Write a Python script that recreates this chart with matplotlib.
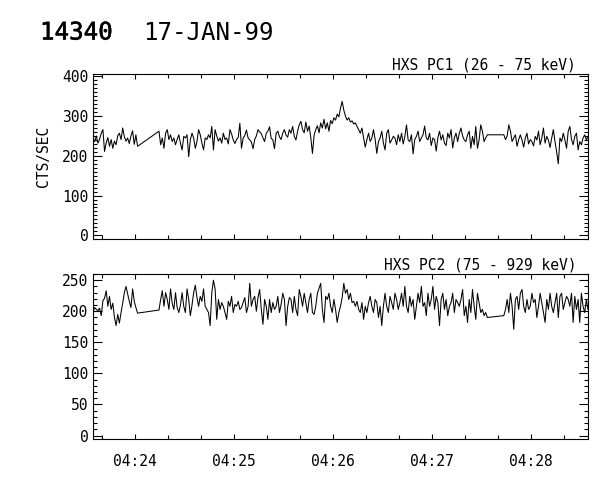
import numpy as np
import matplotlib
matplotlib.use("Agg")
import matplotlib.pyplot as plt
import matplotlib.dates as mdates
from matplotlib import patheffects
from datetime import datetime, timedelta

# ---------------- data ----------------
start_time = datetime(1999, 1, 17, 4, 23, 34, 500000)
window_s = 300
# sample segments (seconds from start, inclusive), 1 s cadence, data gaps between
segments = [(0, 27), (40, 239), (249, 300)]

pc1_seg1 = [244, 236, 250, 232, 242, 257, 266, 211, 233, 246, 224, 241, 219, 237,
            228, 251, 257, 241, 270, 248, 237, 245, 231, 250, 263, 229, 253, 224]
pc1_seg2 = [
    # t 40-74
    262, 228, 245, 219, 257, 266, 241, 253, 236, 245, 228, 241, 253, 232, 215, 249, 245,
    253, 198, 241, 257, 245, 219, 236, 266, 253, 232, 215, 245, 241, 253, 245, 274, 215, 266,
    # t 75-150
    250, 237, 245, 232, 257, 241, 245, 230, 266, 255, 240, 231, 241, 246, 282, 219, 245,
    251, 265, 245, 240, 235, 218, 241, 250, 266, 260, 256, 245, 236, 257, 262, 273, 244,
    240, 218, 257, 262, 248, 241, 257, 266, 252, 247, 266, 257, 274, 249, 240, 262, 278,
    287, 266, 258, 285, 262, 275, 246, 206, 252, 266, 276, 258, 283, 270, 292, 268, 283,
    262, 289, 281, 296, 290, 305, 298, 320,
    # t 151-225
    337, 315, 300, 290, 296, 285, 288, 280, 283, 274, 266, 257, 270, 245, 222, 241, 257,
    236, 245, 266, 241, 206, 236, 245, 262, 232, 215, 257, 266, 232, 240, 249, 245, 228,
    253, 236, 257, 230, 249, 278, 240, 236, 253, 205, 241, 249, 262, 236, 245, 253, 275,
    245, 240, 257, 226, 245, 241, 212, 245, 262, 240, 253, 232, 226, 257, 245, 266, 220,
    245, 257, 236, 257, 270, 250, 240,
    # t 226-239
    236, 253, 262, 219, 249, 228, 274, 219, 240, 278, 262, 236, 245, 253]
pc1_seg3 = [253, 241, 250, 278, 262, 236, 245, 253, 224, 241, 253, 240, 222, 245, 257,
            230, 241, 236, 225, 249, 240, 262, 228, 245, 270, 232, 249, 240, 221, 245,
            266, 236, 210, 180, 245, 236, 257, 240, 219, 262, 274, 241, 228, 249, 257,
            215, 236, 228, 245, 253, 240, 249]

pc2_seg1 = [199, 206, 203, 201, 205, 193, 217, 221, 233, 208, 224, 203, 213, 190,
            177, 195, 181, 198, 213, 230, 240, 228, 216, 206, 236, 216, 206, 197]
pc2_seg2 = [
    # t 40-74
    202, 219, 233, 208, 230, 219, 203, 236, 213, 203, 230, 206, 198, 210, 230, 208, 198,
    236, 219, 193, 210, 230, 242, 222, 208, 224, 216, 236, 208, 203, 198, 177, 230, 250, 236,
    # t 75-150
    187, 219, 203, 214, 208, 198, 187, 216, 208, 224, 198, 211, 208, 216, 203, 206, 214,
    222, 198, 208, 245, 208, 219, 224, 200, 222, 235, 203, 179, 219, 208, 187, 219, 198,
    214, 203, 208, 224, 198, 211, 229, 219, 177, 208, 222, 219, 198, 224, 203, 193, 235,
    224, 208, 229, 214, 198, 219, 229, 198, 195, 208, 229, 237, 245, 203, 182, 224, 219,
    229, 208, 198, 219, 203, 182, 198, 208,
    # t 151-217
    222, 245, 229, 235, 219, 229, 214, 216, 208, 216, 203, 198, 214, 187, 208, 198, 214,
    224, 208, 198, 219, 214, 190, 208, 177, 208, 229, 208, 198, 224, 214, 203, 229, 219,
    203, 214, 229, 208, 240, 208, 198, 224, 208, 219, 187, 208, 229, 214, 240, 208, 214,
    193, 229, 208, 219, 240, 203, 224, 214, 177, 219, 229, 203, 219, 193, 208, 214,
    # t 218-239
    229, 198, 219, 214, 208, 219, 235, 193, 208, 182, 219, 198, 235, 208, 187, 229, 214,
    198, 203, 193, 198, 190]
pc2_seg3 = [193, 203, 219, 198, 229, 208, 171, 219, 224, 203, 229, 235, 208, 198, 219,
            203, 208, 229, 214, 219, 190, 208, 229, 214, 198, 182, 219, 203, 229, 208,
            198, 214, 229, 190, 224, 229, 203, 214, 224, 219, 208, 229, 182, 224, 203,
            219, 182, 229, 208, 198, 219, 203]

pc1_title = "HXS PC1 (26 - 75 keV)"
pc2_title = "HXS PC2 (75 - 929 keV)"
y_label = "CTS/SEC"
title_id = "14340"
title_date = "17-JAN-99"

# ---------------- build series ----------------
secs = np.concatenate([np.arange(a, b + 1) for a, b in segments])
pc1 = np.array(pc1_seg1 + pc1_seg2 + pc1_seg3, dtype=float)
pc2 = np.array(pc2_seg1 + pc2_seg2 + pc2_seg3, dtype=float)
times = mdates.date2num([start_time + timedelta(seconds=float(s)) for s in secs])
n = min(len(times), len(pc1), len(pc2))
times, pc1, pc2 = times[:n], pc1[:n], pc2[:n]

plt.rcParams["font.family"] = ["DejaVu Sans Mono", "DejaVu Sans"]
fig = plt.figure(figsize=(6, 4.8), dpi=100)
ax1 = fig.add_axes([0.155, 0.5015, 0.825, 0.3435])
ax2 = fig.add_axes([0.155, 0.0848, 0.825, 0.3444])

x0 = mdates.date2num(start_time)
x1 = mdates.date2num(start_time + timedelta(seconds=window_s))

for ax, y, ttl in ((ax1, pc1, pc1_title), (ax2, pc2, pc2_title)):
    ax.plot(times, y, color="black", lw=0.75)
    ax.set_xlim(x0, x1)
    ax.xaxis.set_major_locator(mdates.MinuteLocator())
    ax.xaxis.set_minor_locator(mdates.SecondLocator(bysecond=[20, 40]))
    ax.xaxis.set_major_formatter(mdates.DateFormatter("%H:%M"))
    ax.tick_params(axis="both", which="both", direction="in", top=True, right=True,
                   width=0.8, labelsize=10.5, colors="black")
    ax.tick_params(axis="x", which="major", length=3.6, pad=10.5)
    ax.tick_params(axis="x", which="minor", length=3.0)
    ax.tick_params(axis="y", which="major", length=6.5, pad=3.4)
    ax.tick_params(axis="y", which="minor", length=3.2)
    for sp in ax.spines.values():
        sp.set_linewidth(0.8)
    ax.text(0.976, 1.012, ttl, transform=ax.transAxes, ha="right", va="bottom",
            fontsize=10.5)

ax1.set_ylim(-10, 405)
ax1.yaxis.set_major_locator(plt.MultipleLocator(100))
ax1.yaxis.set_minor_locator(plt.MultipleLocator(10))
ax1.tick_params(axis="x", labelbottom=False)
ax1.set_ylabel(y_label, fontsize=10.5, labelpad=8)

ax2.set_ylim(-6, 260)
ax2.yaxis.set_major_locator(plt.MultipleLocator(50))
ax2.yaxis.set_minor_locator(plt.MultipleLocator(10))

fig.text(40 / 600, 1 - 39.5 / 480, title_id, fontsize=17.4, ha="left", va="baseline",
         path_effects=[patheffects.withStroke(linewidth=0.4, foreground="black")])
fig.text(143 / 600, 1 - 39.5 / 480, title_date, fontsize=17.4, ha="left", va="baseline")

fig.savefig("out.png", dpi=100)
